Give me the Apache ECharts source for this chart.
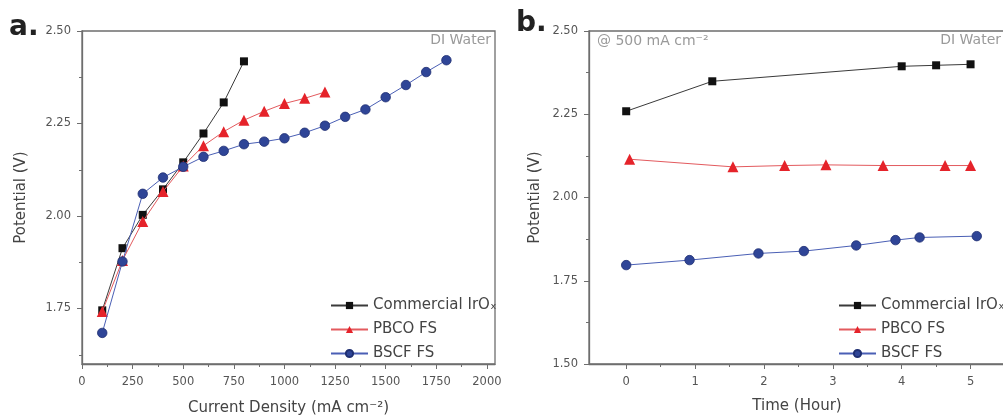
<!DOCTYPE html>
<html><head><meta charset="utf-8">
<script src="https://cdn.jsdelivr.net/npm/echarts@6/dist/echarts.min.js"></script>
<style>html,body{margin:0;padding:0;background:#fff}#c{width:1003px;height:419px}</style>
</head><body><div id="c"></div>
<script>
// ---------- Panel a: potential vs current density ----------
const currentDensity = [100,200,300,400,500,600,700,800,900,1000,1100,1200,1300,1400,1500,1600,1700,1800];
const irOxA = [1.745,1.913,2.003,2.072,2.145,2.223,2.307,2.418];
const pbcoA = [1.742,1.880,1.985,2.066,2.135,2.190,2.228,2.259,2.283,2.304,2.318,2.335];
const bscfA = [1.684,1.877,2.060,2.104,2.133,2.160,2.176,2.194,2.201,2.210,2.225,2.244,2.268,2.288,2.321,2.354,2.389,2.421];

// ---------- Panel b: potential vs time @ 500 mA cm-2 ----------
const irOxTime = [0,1.25,4.0,4.5,5.0];
const irOxB    = [2.259,2.349,2.394,2.397,2.400];
const pbcoTime = [0.05,1.55,2.3,2.9,3.73,4.63,5.0];
const pbcoB    = [2.115,2.092,2.096,2.098,2.096,2.096,2.096];
const bscfTime = [0,0.92,1.92,2.58,3.34,3.91,4.26,5.09];
const bscfB    = [1.797,1.812,1.832,1.839,1.856,1.872,1.880,1.884];

// ---------- Tick values ----------
const xTicksA = [0,250,500,750,1000,1250,1500,1750,2000];
const xMinorA = [125,375,625,875,1125,1375,1625,1875];
const yTicksA = [1.75,2.00,2.25,2.50];
const yMinorA = [1.625,1.875,2.125,2.375];
const xTicksB = [0,1,2,3,4,5];
const xMinorB = [0.5,1.5,2.5,3.5,4.5];
const yTicksB = [1.50,1.75,2.00,2.25,2.50];
const yMinorB = [1.625,1.875,2.125,2.375];

const seriesNames = ['Commercial IrO\u2093','PBCO FS','BSCF FS'];

const FONT = '"DejaVu Sans", "Noto Sans", sans-serif';
const AX = '#6e6e6e';
const LBL = '#555';

function pairs(xs, ys){ return ys.map((y,i)=>[xs[i], y]); }

function axes(dim, gridIndex, min, max, majors, minors, fmt, name, nameGap){
  const pos = dim === 'x' ? 'bottom' : 'left';
  const main = {
    type:'value', gridIndex, min, max, position: pos,
    axisLine:{show:true, onZero:false, lineStyle:{color:AX, width:1.3}},
    axisTick:{show:true, inside:false, length:5, customValues: majors, lineStyle:{color:AX, width:1}},
    axisLabel:{show:true, customValues: majors, formatter: fmt, color:LBL, fontSize:11.5, fontFamily:FONT, margin: dim==='x'?12:11},
    splitLine:{show:false},
    name: name, nameLocation:'middle', nameGap: nameGap,
    nameTextStyle:{fontSize:15, fontFamily:FONT, color:'#444'}
  };
  const minor = {
    type:'value', gridIndex, min, max, position: pos,
    axisLine:{show:false, onZero:false},
    axisTick:{show:true, inside:false, length:3, customValues: minors, lineStyle:{color:AX, width:1}},
    axisLabel:{show:false},
    splitLine:{show:false}
  };
  return [main, minor];
}

const fmtInt = v => String(Math.round(v));
const fmt2 = v => v.toFixed(2);

const xAxes = [
  ...axes('x', 0, 0, 2040, xTicksA, xMinorA, fmtInt, 'Current Density (mA cm\u207B\u00B2)', 37),
  ...axes('x', 1, -0.54, 5.5, xTicksB, xMinorB, fmtInt, 'Time (Hour)', 35)
];
const yAxes = [
  ...axes('y', 0, 1.6, 2.5, yTicksA, yMinorA, fmt2, 'Potential (V)', 53),
  ...axes('y', 1, 1.5, 2.5, yTicksB, yMinorB, fmt2, 'Potential (V)', 46)
];

const styles = [
  {color:'#111111', line:'#3a3a3a', symbol:'rect', size:8},
  {color:'#e5232a', line:'#e35a5e', symbol:'triangle', size:11},
  {color:'#2f4597', line:'#4a5fb5', symbol:'circle', size:9.5}
];

function mkSeries(i, data, xi, yi){
  const s = styles[i];
  return {
    type:'line', name: seriesNames[i], data, xAxisIndex: xi, yAxisIndex: yi,
    symbol: s.symbol, symbolSize: s.size, showAllSymbol:true,
    lineStyle:{color:s.line, width:1},
    itemStyle:{color:s.color, borderColor: i===2 ? '#1f2f72' : s.color, borderWidth: i===2 ? 0.8 : 0},
    emphasis:{disabled:true}, animation:false, z: 2+i
  };
}

const series = [
  mkSeries(0, pairs(currentDensity, irOxA), 0, 0),
  mkSeries(1, pairs(currentDensity, pbcoA), 0, 0),
  mkSeries(2, pairs(currentDensity, bscfA), 0, 0),
  mkSeries(0, pairs(irOxTime, irOxB), 2, 2),
  mkSeries(1, pairs(pbcoTime, pbcoB), 2, 2),
  mkSeries(2, pairs(bscfTime, bscfB), 2, 2)
];

function legend(left){
  return {
    left, top:292, orient:'vertical', itemWidth:37, itemHeight:9, itemGap:7,
    data: seriesNames, selectedMode:false,
    textStyle:{fontSize:15, fontFamily:FONT, color:'#444', lineHeight:17}
  };
}

function txt(x, y, text, font, fill, align){
  return {type:'text', x, y, silent:true, z:10,
    style:{text, font, fill, align: align||'left', verticalAlign:'middle', textAlign: align||'left', textVerticalAlign:'middle'}};
}

const chart = echarts.init(document.getElementById('c'), null, {renderer:'canvas'});
chart.setOption({
  backgroundColor:'#fff',
  animation:false,
  grid:[
    {left:82, top:31, width:413, height:333, show:true, borderColor:AX, borderWidth:1.3, backgroundColor:'transparent', outerBoundsMode:'none', containLabel:false},
    {left:589, top:31, width:416, height:333, show:true, borderColor:AX, borderWidth:1.3, backgroundColor:'transparent', outerBoundsMode:'none', containLabel:false}
  ],
  xAxis: xAxes,
  yAxis: yAxes,
  legend: [legend(325), legend(833)],
  series,
  graphic:[
    txt(9, 28, 'a.', 'bold 28px "DejaVu Sans", sans-serif', '#222'),
    txt(516, 24, 'b.', 'bold 28px "DejaVu Sans", sans-serif', '#222'),
    txt(491, 40, 'DI Water', '14px "DejaVu Sans", sans-serif', '#9a9a9a', 'right'),
    txt(1001, 40, 'DI Water', '14px "DejaVu Sans", sans-serif', '#9a9a9a', 'right'),
    txt(597, 41, '@ 500 mA cm\u207B\u00B2', '14px "DejaVu Sans", sans-serif', '#9a9a9a')
  ]
});
</script></body></html>
